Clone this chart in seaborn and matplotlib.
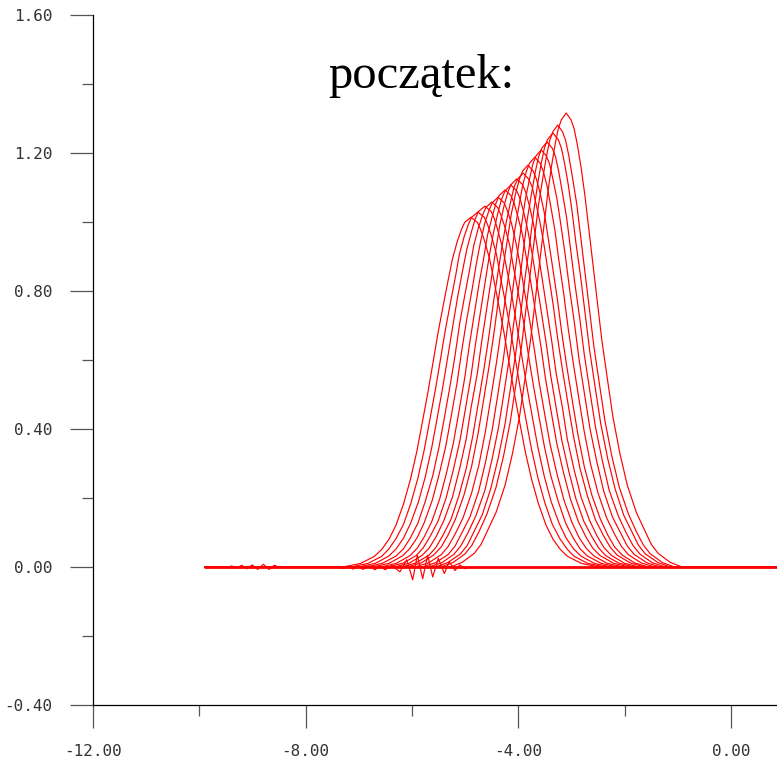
import matplotlib
matplotlib.use("Agg")
import matplotlib.pyplot as plt
from matplotlib.ticker import FixedLocator
import pandas as pd
import seaborn as sns

# ---------------- data ----------------
title_text = "początek:"

x_ticks = [-12.0, -8.0, -4.0, 0.0]
x_ticklabels = ["-12.00", "-8.00", "-4.00", "0.00"]
x_minor = [-10.0, -6.0, -2.0]
y_ticks = [-0.4, 0.0, 0.4, 0.8, 1.2, 1.6]
y_ticklabels = ["-0.40", "0.00", "0.40", "0.80", "1.20", "1.60"]
y_minor = [-0.2, 0.2, 0.6, 1.0, 1.4]

# flat part shared by every snapshot
baseline_x = [-9.89, 1.0]
baseline_y = [0.0, 0.0]

# peak of every snapshot
peak_x = [-4.89, -4.76, -4.63, -4.50, -4.38, -4.25, -4.14, -4.03,
          -3.91, -3.82, -3.69, -3.57, -3.46, -3.35, -3.26, -3.10]
peak_y = [1.014, 1.029, 1.046, 1.058, 1.072, 1.093, 1.107, 1.125,
          1.142, 1.165, 1.188, 1.209, 1.232, 1.258, 1.281, 1.316]

# heights (as fraction of the peak) at which flank positions were read
height_fracs = [0.0, 0.01, 0.03, 0.05, 0.08, 0.12, 0.18, 0.25, 0.33, 0.41,
                0.5, 0.58, 0.67, 0.75, 0.82, 0.88, 0.93, 0.965, 0.985]

# horizontal distance of each flank from the peak, per snapshot
flank_offsets = [
    [2.41, 2.08, 1.82, 1.68, 1.54, 1.41, 1.27, 1.14, 1.02, 0.92, 0.81, 0.72, 0.62, 0.52, 0.43, 0.35, 0.26, 0.18, 0.12],
    [2.39, 2.07, 1.81, 1.68, 1.54, 1.40, 1.26, 1.13, 1.01, 0.91, 0.80, 0.71, 0.61, 0.51, 0.42, 0.35, 0.26, 0.18, 0.12],
    [2.38, 2.06, 1.81, 1.67, 1.53, 1.40, 1.25, 1.12, 1.00, 0.90, 0.79, 0.70, 0.60, 0.51, 0.42, 0.34, 0.25, 0.18, 0.12],
    [2.36, 2.06, 1.80, 1.66, 1.53, 1.39, 1.25, 1.11, 0.99, 0.89, 0.78, 0.69, 0.60, 0.50, 0.41, 0.34, 0.25, 0.17, 0.11],
    [2.35, 2.05, 1.80, 1.66, 1.52, 1.39, 1.24, 1.11, 0.98, 0.88, 0.77, 0.69, 0.59, 0.49, 0.41, 0.33, 0.25, 0.17, 0.11],
    [2.33, 2.04, 1.79, 1.65, 1.52, 1.38, 1.23, 1.10, 0.97, 0.87, 0.76, 0.68, 0.58, 0.49, 0.40, 0.33, 0.24, 0.17, 0.11],
    [2.32, 2.03, 1.78, 1.65, 1.52, 1.37, 1.22, 1.09, 0.96, 0.86, 0.75, 0.67, 0.57, 0.48, 0.40, 0.32, 0.24, 0.17, 0.11],
    [2.30, 2.02, 1.78, 1.64, 1.51, 1.37, 1.21, 1.08, 0.95, 0.86, 0.74, 0.66, 0.56, 0.47, 0.39, 0.32, 0.24, 0.17, 0.11],
    [2.29, 2.02, 1.77, 1.64, 1.51, 1.36, 1.21, 1.07, 0.95, 0.85, 0.74, 0.65, 0.56, 0.47, 0.39, 0.31, 0.23, 0.17, 0.10],
    [2.27, 2.01, 1.77, 1.63, 1.50, 1.36, 1.20, 1.06, 0.94, 0.84, 0.73, 0.64, 0.55, 0.46, 0.38, 0.31, 0.23, 0.16, 0.10],
    [2.26, 2.00, 1.76, 1.63, 1.50, 1.35, 1.19, 1.05, 0.93, 0.83, 0.72, 0.63, 0.54, 0.45, 0.38, 0.30, 0.23, 0.16, 0.10],
    [2.24, 1.99, 1.75, 1.62, 1.50, 1.34, 1.18, 1.05, 0.92, 0.82, 0.71, 0.63, 0.53, 0.45, 0.37, 0.30, 0.22, 0.16, 0.10],
    [2.23, 1.98, 1.75, 1.62, 1.49, 1.34, 1.17, 1.04, 0.91, 0.81, 0.70, 0.62, 0.52, 0.44, 0.37, 0.29, 0.22, 0.16, 0.10],
    [2.21, 1.98, 1.74, 1.61, 1.49, 1.33, 1.17, 1.03, 0.90, 0.80, 0.69, 0.61, 0.52, 0.43, 0.36, 0.29, 0.22, 0.16, 0.10],
    [2.20, 1.97, 1.74, 1.61, 1.48, 1.33, 1.16, 1.02, 0.89, 0.79, 0.68, 0.60, 0.51, 0.43, 0.36, 0.28, 0.21, 0.15, 0.09],
    [2.18, 1.96, 1.73, 1.60, 1.48, 1.32, 1.15, 1.01, 0.88, 0.78, 0.67, 0.59, 0.50, 0.42, 0.35, 0.28, 0.21, 0.15, 0.09],
]

# small numerical ripples near the baseline
ripple_near_x = [-7.40, -7.298, -7.204, -7.110, -7.016, -6.921, -6.808, -6.696,
                 -6.602, -6.508, -6.375, -6.226, -6.100, -5.987, -5.900, -5.799,
                 -5.705, -5.611, -5.505, -5.393, -5.299, -5.191, -5.100, -5.003, -4.90]
ripple_near_y = [0.0, -0.004, 0.002, -0.006, 0.002, -0.007, 0.003, -0.008,
                 0.003, -0.008, 0.004, -0.014, 0.021, -0.037, 0.034, -0.034,
                 0.034, -0.029, 0.025, -0.019, 0.015, -0.010, 0.006, -0.005, 0.0]
ripple_far_x = [-9.45, -9.391, -9.297, -9.203, -9.109, -9.004, -8.902,
                -8.797, -8.690, -8.590, -8.483, -8.42]
ripple_far_y = [0.0, 0.003, -0.003, 0.005, -0.005, 0.006, -0.007,
                0.008, -0.007, 0.005, -0.002, 0.0]

# ---------------- build long table ----------------
rows = []
for k, (px, py, offs) in enumerate(zip(peak_x, peak_y, flank_offsets)):
    pts = [(baseline_x[0], 0.0)]
    for f, d in zip(height_fracs, offs):
        pts.append((px - d, f * py))
    pts.append((px, py))
    for f, d in zip(reversed(height_fracs), reversed(offs)):
        pts.append((px + d, f * py))
    pts.append((baseline_x[1], 0.0))
    for i, (xx, yy) in enumerate(pts):
        rows.append({"curve": k, "order": i, "x": xx, "y": yy})
df = pd.DataFrame(rows)

ripple_df = pd.DataFrame(
    [{"curve": "near", "x": a, "y": b} for a, b in zip(ripple_near_x, ripple_near_y)]
    + [{"curve": "far", "x": a, "y": b} for a, b in zip(ripple_far_x, ripple_far_y)]
)

# ---------------- style ----------------
sns.set_style("white")
plt.rcParams["font.family"] = ["DejaVu Sans Mono", "DejaVu Sans"]

fig = plt.figure(figsize=(7.77, 7.65), dpi=100)
ax = fig.add_axes([93 / 777, 60 / 765, (777 - 93) / 777, 690 / 765])

red = "#ff0000"
sns.lineplot(data=df, x="x", y="y", units="curve", estimator=None, sort=False,
             color=red, linewidth=0.85, ax=ax, legend=False)
sns.lineplot(data=ripple_df, x="x", y="y", units="curve", estimator=None, sort=False,
             color=red, linewidth=0.85, ax=ax, legend=False)
sns.lineplot(x=baseline_x, y=baseline_y, color=red, linewidth=2.0, ax=ax, legend=False)

ax.set_xlim(-12.0, 0.865)
ax.set_ylim(-0.4, 1.6)
ax.set_xlabel("")
ax.set_ylabel("")

for s in ["top", "right"]:
    ax.spines[s].set_visible(False)
for s in ["left", "bottom"]:
    ax.spines[s].set_color("black")
    ax.spines[s].set_linewidth(0.9)

ax.xaxis.set_major_locator(FixedLocator(x_ticks))
ax.xaxis.set_minor_locator(FixedLocator(x_minor))
ax.yaxis.set_major_locator(FixedLocator(y_ticks))
ax.yaxis.set_minor_locator(FixedLocator(y_minor))
ax.set_xticklabels(x_ticklabels)
ax.set_yticklabels(y_ticklabels)

ax.tick_params(axis="both", which="major", direction="out", length=16.5, width=0.9,
               color="#555555", labelcolor="#333333", labelsize=11.5)
ax.tick_params(axis="both", which="minor", direction="out", length=8, width=0.9,
               color="#555555")
ax.tick_params(axis="y", which="major", pad=12.5)
ax.tick_params(axis="x", which="major", pad=11.5)
ax.tick_params(bottom=True, left=True, which="both")

fig.text(421 / 777, 1 - 88 / 765, title_text, ha="center", va="baseline",
         fontsize=35, family=["Liberation Serif", "DejaVu Serif"], color="black")

fig.savefig("out.png", dpi=100)
